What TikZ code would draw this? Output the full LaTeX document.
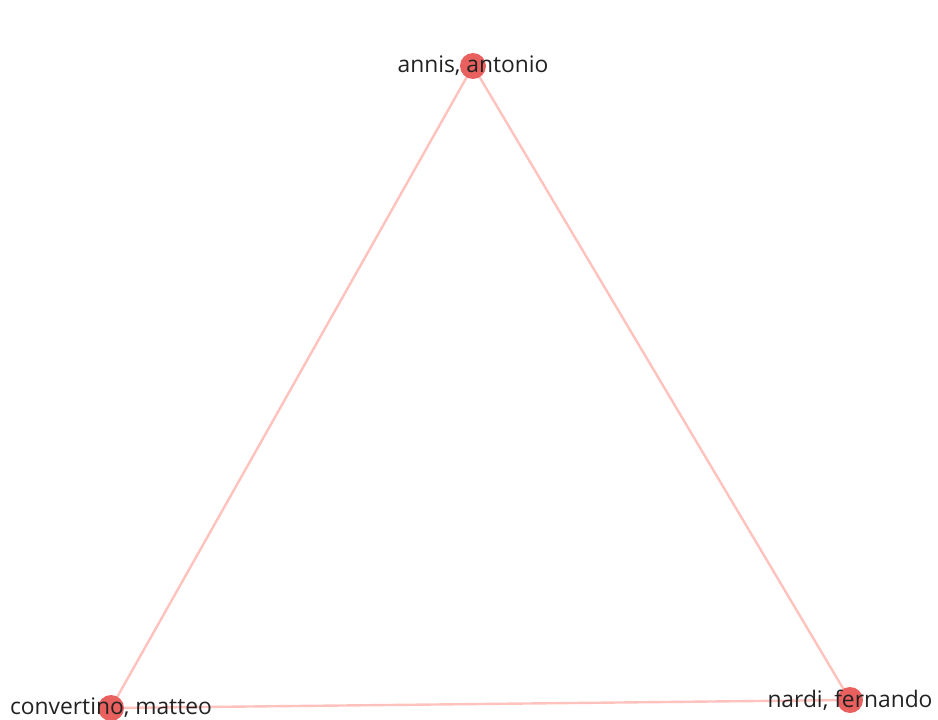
\documentclass[tikz,border=0pt]{standalone}
\usepackage{fontspec}
\setmainfont{Open Sans}
\definecolor{edgecol}{HTML}{FFC2BD}
\definecolor{nodecol}{HTML}{E8615F}
\definecolor{txtcol}{HTML}{222222}
\begin{document}
\begin{tikzpicture}[
  x=1pt, y=-1pt,
  pt/.style={circle, fill=nodecol, inner sep=0pt, minimum size=26pt},
  lbl/.style={font=\fontsize{22.8}{22.8}\selectfont, text=txtcol, inner sep=0pt},
  edge/.style={draw=edgecol, line width=2.4pt},
]
  \useasboundingbox (0,0) rectangle (938,720);

  \coordinate (a) at (473, 66);
  \coordinate (c) at (111, 708);
  \coordinate (n) at (850, 700);

  \draw[edge] (a) -- (c);
  \draw[edge] (c) -- (n);
  \draw[edge] (a) -- (n);

  \node[pt] (annis) at (a) {};
  \node[pt] (convertino) at (c) {};
  \node[pt] (nardi) at (n) {};

  \node[lbl] (annislbl) at (annis) {annis, antonio};
  \node[lbl] (convertinolbl) at (convertino) {convertino, matteo};
  \node[lbl] (nardilbl) at (nardi) {nardi, fernando};
\end{tikzpicture}
\end{document}
